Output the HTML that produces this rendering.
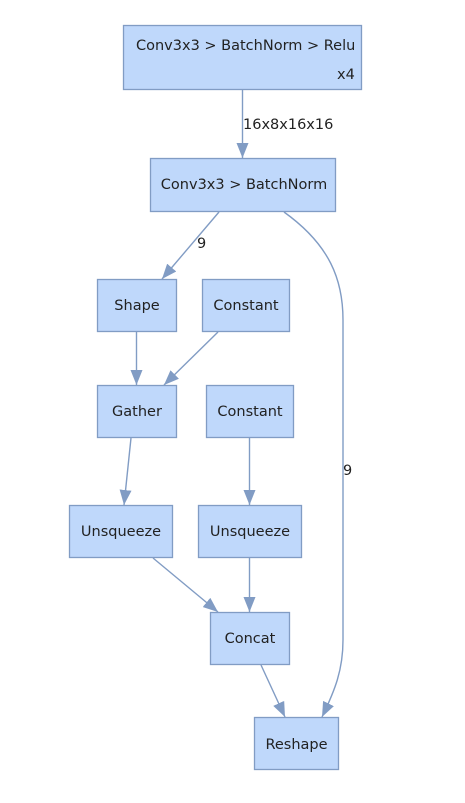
<!DOCTYPE html>
<html><head><meta charset="utf-8"><style>
html,body{margin:0;padding:0;background:#fff;}
svg{display:block;}
text{font-family:"DejaVu Sans","Liberation Sans",sans-serif;font-size:14.5px;fill:#222;}
.n{fill:#bfd8fb;stroke:#819cc4;stroke-width:1.3;}
.e{stroke:#819cc4;stroke-width:1.4;fill:none;}
</style></head><body>
<svg width="465" height="803" viewBox="0 0 465 803">
<defs><marker id="a" markerWidth="16" markerHeight="12" refX="15" refY="6" orient="auto" markerUnits="userSpaceOnUse">
<path d="M0,0 L15,6 L0,12 z" fill="#819cc4"/></marker></defs>
<rect class="n" x="123.5" y="25.5" width="238" height="64"/>
<text x="136" y="50">Conv3x3 &gt; BatchNorm &gt; Relu</text>
<text x="337" y="79">x4</text>
<rect class="n" x="150.5" y="158.5" width="185" height="53"/>
<text x="244" y="189" text-anchor="middle">Conv3x3 &gt; BatchNorm</text>
<rect class="n" x="97.5" y="279.5" width="79" height="52"/>
<text x="137" y="310" text-anchor="middle">Shape</text>
<rect class="n" x="202.5" y="279.5" width="87" height="52"/>
<text x="246" y="310" text-anchor="middle">Constant</text>
<rect class="n" x="97.5" y="385.5" width="79" height="52"/>
<text x="137" y="416" text-anchor="middle">Gather</text>
<rect class="n" x="206.5" y="385.5" width="87" height="52"/>
<text x="250" y="416" text-anchor="middle">Constant</text>
<rect class="n" x="69.5" y="505.5" width="103" height="52"/>
<text x="121" y="536" text-anchor="middle">Unsqueeze</text>
<rect class="n" x="198.5" y="505.5" width="103" height="52"/>
<text x="250" y="536" text-anchor="middle">Unsqueeze</text>
<rect class="n" x="210.5" y="612.5" width="79" height="52"/>
<text x="250" y="643" text-anchor="middle">Concat</text>
<rect class="n" x="254.5" y="717.5" width="84" height="52"/>
<text x="296.5" y="749" text-anchor="middle">Reshape</text>

<line class="e" x1="242.5" y1="90" x2="242.5" y2="158" marker-end="url(#a)"/>
<text x="243" y="129">16x8x16x16</text>
<line class="e" x1="219" y1="212" x2="162" y2="279" marker-end="url(#a)"/>
<text x="197" y="248">9</text>
<path class="e" d="M284,212 C330,245 343,280 343,320 L343,640 C343,670 335,690 322,717" marker-end="url(#a)"/>
<text x="343" y="475">9</text>
<line class="e" x1="136.5" y1="332" x2="136.5" y2="385" marker-end="url(#a)"/>
<line class="e" x1="218" y1="332" x2="164" y2="385" marker-end="url(#a)"/>
<line class="e" x1="131" y1="438" x2="124" y2="505" marker-end="url(#a)"/>
<line class="e" x1="249.5" y1="438" x2="249.5" y2="505" marker-end="url(#a)"/>
<line class="e" x1="153" y1="558" x2="218" y2="612" marker-end="url(#a)"/>
<line class="e" x1="249.5" y1="558" x2="249.5" y2="612" marker-end="url(#a)"/>
<line class="e" x1="261" y1="665" x2="285" y2="717" marker-end="url(#a)"/>
</svg>
</body></html>
